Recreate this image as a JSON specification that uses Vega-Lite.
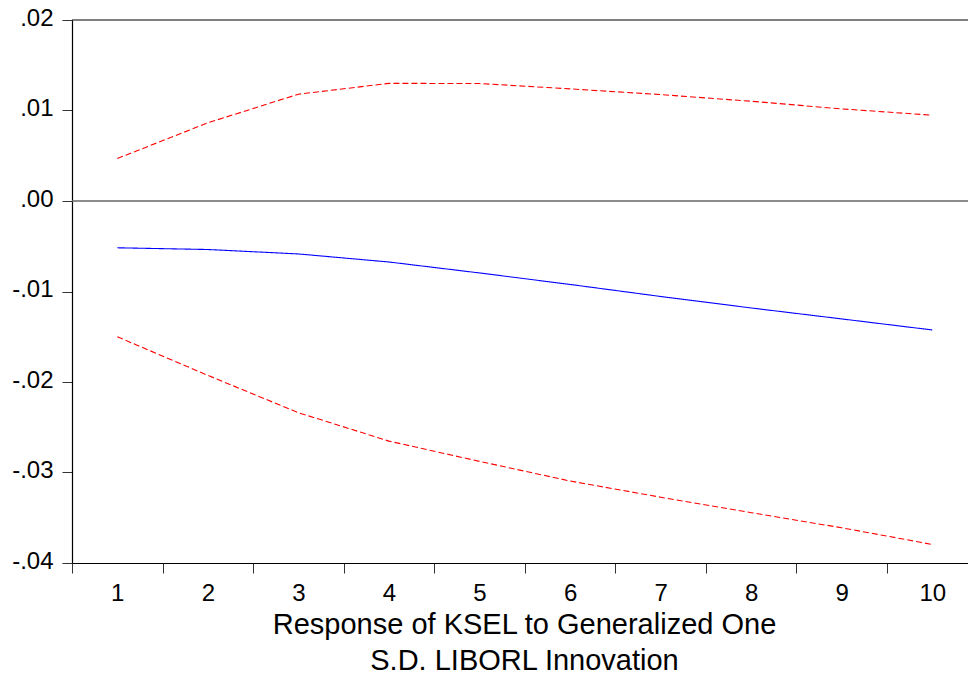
{
  "$schema": "https://vega.github.io/schema/vega-lite/v6.json",
  "width": 896,
  "height": 543,
  "autosize": "none",
  "padding": {"left": 72, "top": 20, "right": 0, "bottom": 116},
  "background": "white",
  "config": {"view": {"stroke": null}, "font": "Liberation Sans"},
  "datasets": {
    "irf": [
      {"period": 1, "band": "Response", "value": -0.00517},
      {"period": 2, "band": "Response", "value": -0.00536},
      {"period": 3, "band": "Response", "value": -0.00585},
      {"period": 4, "band": "Response", "value": -0.00674},
      {"period": 5, "band": "Response", "value": -0.00795},
      {"period": 6, "band": "Response", "value": -0.00922},
      {"period": 7, "band": "Response", "value": -0.01055},
      {"period": 8, "band": "Response", "value": -0.01182},
      {"period": 9, "band": "Response", "value": -0.01303},
      {"period": 10, "band": "Response", "value": -0.01425},
      {"period": 1, "band": "Upper", "value": 0.00469},
      {"period": 2, "band": "Upper", "value": 0.00864},
      {"period": 3, "band": "Upper", "value": 0.0118},
      {"period": 4, "band": "Upper", "value": 0.013},
      {"period": 5, "band": "Upper", "value": 0.01298},
      {"period": 6, "band": "Upper", "value": 0.01239},
      {"period": 7, "band": "Upper", "value": 0.01176},
      {"period": 8, "band": "Upper", "value": 0.01102},
      {"period": 9, "band": "Upper", "value": 0.01018},
      {"period": 10, "band": "Upper", "value": 0.00948},
      {"period": 1, "band": "Lower", "value": -0.015},
      {"period": 2, "band": "Lower", "value": -0.01927},
      {"period": 3, "band": "Lower", "value": -0.02339},
      {"period": 4, "band": "Lower", "value": -0.02653},
      {"period": 5, "band": "Lower", "value": -0.02877},
      {"period": 6, "band": "Lower", "value": -0.03094},
      {"period": 7, "band": "Lower", "value": -0.03273},
      {"period": 8, "band": "Lower", "value": -0.03444},
      {"period": 9, "band": "Lower", "value": -0.03611},
      {"period": 10, "band": "Lower", "value": -0.03795}
    ]
  },
  "layer": [
    {
      "data": {"name": "irf"},
      "mark": {"type": "line", "strokeWidth": 1.1},
      "encoding": {
        "x": {
          "field": "period",
          "type": "quantitative",
          "scale": {"domain": [0.5, 10.394], "nice": false, "zero": false},
          "axis": {
            "values": [0.5, 1, 1.5, 2, 2.5, 3, 3.5, 4, 4.5, 5, 5.5, 6, 6.5, 7, 7.5, 8, 8.5, 9, 9.5, 10],
            "labelExpr": "datum.value % 1 === 0 ? format(datum.value, 'd') : ''",
            "tickOpacity": {"condition": {"test": "datum.value % 1 === 0", "value": 0}, "value": 1},
            "grid": false,
            "domainColor": "#000000",
            "domainWidth": 1.2,
            "tickColor": "#333333",
            "tickSize": 10,
            "labelPadding": 8,
            "labelFontSize": 24,
            "labelColor": "#000000",
            "labelFlush": false,
            "labelOverlap": false,
            "title": ["Response of KSEL to Generalized One", "S.D. LIBORL Innovation"],
            "titleFontSize": 29,
            "titleFontWeight": "normal",
            "titleColor": "#000000",
            "titleX": 452,
            "titleY": 47,
            "titleAlign": "center",
            "titleBaseline": "top",
            "titleLineHeight": 36
          }
        },
        "y": {
          "field": "value",
          "type": "quantitative",
          "scale": {"domain": [-0.04, 0.02], "nice": false, "zero": false},
          "axis": {
            "values": [-0.04, -0.03, -0.02, -0.01, 0, 0.01, 0.02],
            "labelExpr": "(datum.value < -0.0001 ? '-' : '') + replace(format(abs(datum.value), '.2f'), '0.', '.')",
            "grid": false,
            "domainColor": "#000000",
            "domainWidth": 1.2,
            "tickColor": "#333333",
            "tickSize": 10,
            "labelPadding": 9,
            "labelFontSize": 24,
            "labelColor": "#000000",
            "labelFlush": false,
            "labelOverlap": false,
            "labelBaseline": "middle",
            "labelOffset": -2,
            "title": null
          }
        },
        "color": {
          "field": "band",
          "type": "nominal",
          "scale": {"domain": ["Response", "Upper", "Lower"], "range": ["#0000FF", "#FF0000", "#FF0000"]},
          "legend": null
        },
        "strokeDash": {
          "field": "band",
          "type": "nominal",
          "scale": {"domain": ["Response", "Upper", "Lower"], "range": [[1, 0], [6, 3], [6, 3]]},
          "legend": null
        }
      }
    },
    {
      "data": {"values": [{"value": 0}]},
      "mark": {"type": "rule", "color": "#666666", "strokeWidth": 1.3},
      "encoding": {"y": {"field": "value", "type": "quantitative"}}
    },
    {
      "data": {"values": [{"value": 0.02}]},
      "mark": {"type": "rule", "color": "#000000", "strokeWidth": 1.2},
      "encoding": {"y": {"field": "value", "type": "quantitative"}}
    }
  ]
}
